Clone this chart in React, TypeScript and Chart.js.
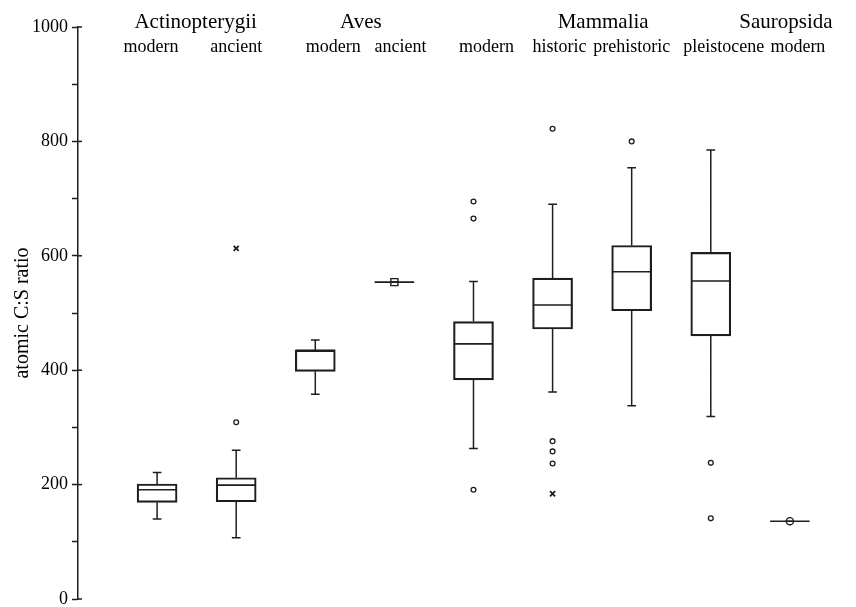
import React, { useEffect, useRef } from 'react';
import { Chart, registerables } from 'chart.js';

Chart.register(...registerables);

// ---- data ----
const groupNames = ['Actinopterygii', 'Aves', 'Mammalia', 'Sauropsida'];
const categories = ['modern', 'ancient', 'modern', 'ancient', 'modern', 'historic', 'prehistoric', 'pleistocene', 'modern'];
const whiskerLow = [140, 107, 358, 554, 263, 362, 338, 319, 136];
const q1 = [169, 170, 398, 554, 383, 472, 504, 460, 136];
const median = [191, 199, 435, 554, 446, 514, 572, 556, 136];
const q3 = [201, 212, 435, 554, 485, 561, 618, 606, 136];
const whiskerHigh = [221, 260, 453, 554, 555, 690, 754, 785, 136];
const outliers = [[], [309], [], [], [695, 665, 191], [822, 276, 258, 237], [800], [238, 141], []];
const extremes = [[], [613], [], [], [], [184], [], [], []];
const singleObs = [null, null, null, 554, null, null, null, null, 136];
const yTickValues = [0, 200, 400, 600, 800, 1000];

// ---- layout / style constants ----
const FONT = "'Liberation Serif', 'Times New Roman', serif";
const INK = '#1e1e1e';
const GROUP_ANCHOR = [0.5, 2.5, 5.5, 8];
const GROUP_DX = [-1, 6, 11, -4];
const SUB_DX = [-6, 0, 18, 6, 13, 7, 0, 13, 8];
const SINGLE_STYLE: Record<number, string> = { 3: 'rect', 8: 'circle' };
const SINGLE_RADIUS: Record<number, number> = { 3: 5, 8: 3.6 };

const labelPlugin = {
  id: 'topLabels',
  afterDraw(chart: any) {
    const ctx = chart.ctx;
    const xs = chart.scales.x;
    const ys = chart.scales.y;
    ctx.save();
    ctx.fillStyle = '#000';
    ctx.textAlign = 'center';
    ctx.textBaseline = 'alphabetic';
    ctx.font = `21px ${FONT}`;
    groupNames.forEach((g, k) => {
      ctx.fillText(g, xs.getPixelForValue(GROUP_ANCHOR[k]) + GROUP_DX[k], 28);
    });
    ctx.font = `18px ${FONT}`;
    categories.forEach((c, i) => {
      ctx.fillText(c, xs.getPixelForValue(i) + SUB_DX[i], 52);
    });
    // inward stubs of the major ticks
    ctx.strokeStyle = INK;
    ctx.lineWidth = 1.5;
    const x0 = chart.chartArea.left;
    yTickValues.forEach((v) => {
      const y = ys.getPixelForValue(v);
      ctx.beginPath();
      ctx.moveTo(x0, y);
      ctx.lineTo(x0 + 4, y);
      ctx.stroke();
    });
    ctx.restore();
  },
};

export default function App() {
  const ref = useRef<HTMLCanvasElement | null>(null);

  useEffect(() => {
    if (!ref.current) return;

    const whiskerPts: any[] = [];
    const capPts: any[] = [];
    const medianPts: any[] = [];
    categories.forEach((_, i) => {
      whiskerPts.push(
        { x: i, y: whiskerLow[i] }, { x: i, y: q1[i] }, { x: i, y: null },
        { x: i, y: q3[i] }, { x: i, y: whiskerHigh[i] }, { x: i, y: null }
      );
      capPts.push(
        { x: i - 0.055, y: whiskerLow[i] }, { x: i + 0.055, y: whiskerLow[i] }, { x: i + 0.055, y: null },
        { x: i - 0.055, y: whiskerHigh[i] }, { x: i + 0.055, y: whiskerHigh[i] }, { x: i + 0.055, y: null }
      );
      medianPts.push({ x: i - 0.25, y: median[i] }, { x: i + 0.25, y: median[i] }, { x: i + 0.25, y: null });
    });
    const outlierPts = outliers.flatMap((arr, i) => arr.map((v) => ({ x: i, y: v })));
    const extremePts = extremes.flatMap((arr, i) => arr.map((v) => ({ x: i, y: v })));
    const singlePts = singleObs
      .map((v, i) => (v == null ? null : { x: i, y: v, idx: i }))
      .filter(Boolean) as any[];

    const lineBase = {
      type: 'line' as const,
      borderColor: INK,
      borderWidth: 1.5,
      pointRadius: 0,
      fill: false,
      spanGaps: false,
      tension: 0,
    };

    const chart = new Chart(ref.current, {
      type: 'bar',
      data: {
        datasets: [
          {
            type: 'bar',
            label: 'box',
            data: categories.map((_, i) => ({ x: i, y: [q1[i], q3[i]] })) as any,
            backgroundColor: 'rgba(0,0,0,0)',
            borderColor: INK,
            borderWidth: 1.5,
            borderSkipped: false,
            barThickness: 40,
          } as any,
          { ...lineBase, label: 'whiskers', data: whiskerPts } as any,
          { ...lineBase, label: 'caps', data: capPts } as any,
          { ...lineBase, label: 'median', data: medianPts, borderWidth: 1.6 } as any,
          {
            type: 'scatter',
            label: 'outliers',
            data: outlierPts,
            pointStyle: 'circle',
            pointRadius: 2.4,
            borderWidth: 1.3,
            borderColor: INK,
            backgroundColor: '#fff',
          } as any,
          {
            type: 'scatter',
            label: 'extremes',
            data: extremePts,
            pointStyle: 'crossRot',
            pointRadius: 3.6,
            borderWidth: 1.8,
            borderColor: INK,
          } as any,
          {
            type: 'scatter',
            label: 'single',
            data: singlePts,
            pointStyle: (c: any) => SINGLE_STYLE[c.raw?.idx] || 'circle',
            pointRadius: (c: any) => SINGLE_RADIUS[c.raw?.idx] || 3.5,
            borderWidth: 1.4,
            borderColor: INK,
            backgroundColor: '#fff',
          } as any,
        ],
      },
      options: {
        animation: false,
        responsive: false,
        layout: { padding: { top: 27, bottom: 21, left: 0, right: 0 } },
        plugins: { legend: { display: false }, tooltip: { enabled: false } },
        scales: {
          x: {
            type: 'linear',
            min: -1,
            max: 8.755,
            offset: false,
            display: false,
            grid: { offset: false },
          },
          y: {
            type: 'linear',
            min: 0,
            max: 1000,
            afterFit: (scale: any) => {
              scale.width = 78;
            },
            border: { display: true, color: INK, width: 1.5 },
            grid: { drawOnChartArea: false, tickLength: 6, tickColor: INK, tickWidth: 1.5 },
            ticks: {
              stepSize: 100,
              autoSkip: false,
              padding: 4,
              color: '#000',
              font: { family: FONT, size: 18 },
              callback: (v: any) => (Number(v) % 200 === 0 ? String(v) : ''),
            },
            title: {
              display: true,
              text: 'atomic C:S ratio',
              color: '#000',
              font: { family: FONT, size: 20 },
              padding: { top: 11, bottom: 0 },
            },
          },
        },
      },
      plugins: [labelPlugin],
    });

    return () => chart.destroy();
  }, []);

  return (
    <div style={{ position: 'fixed', left: 0, top: 0, width: 856, height: 620, background: '#fff' }}>
      <canvas ref={ref} width={856} height={620} />
    </div>
  );
}
